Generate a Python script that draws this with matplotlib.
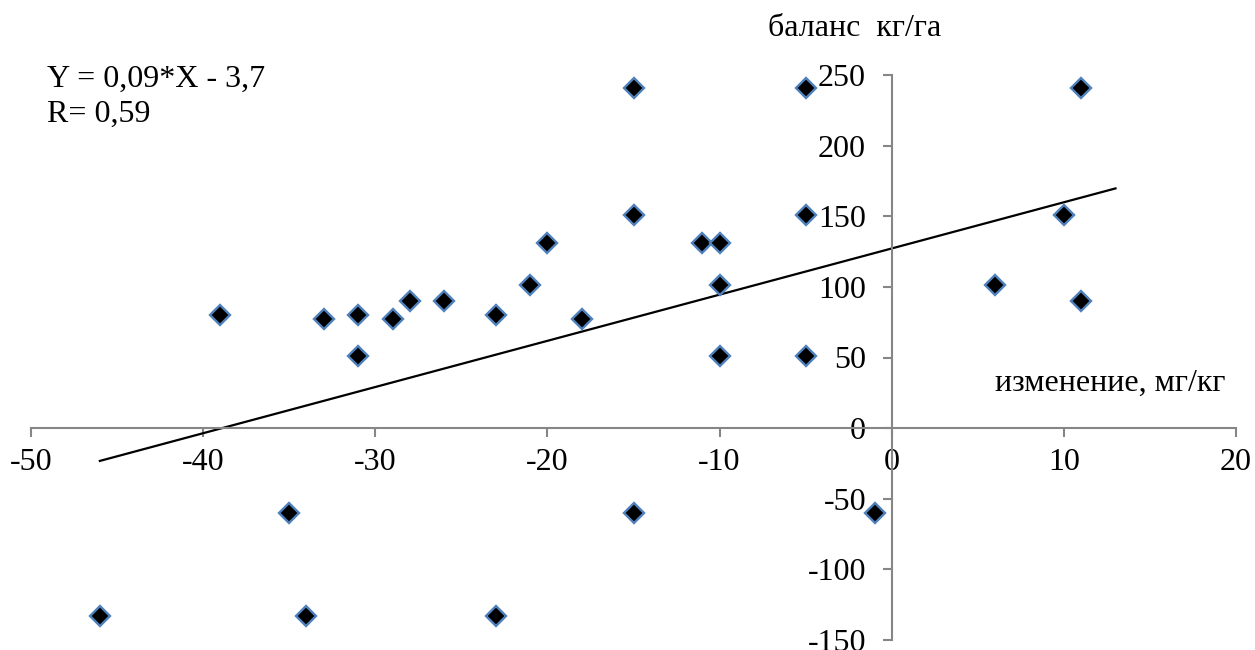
import matplotlib
matplotlib.use('Agg')
import matplotlib.pyplot as plt
import numpy as np

plt.rcParams['font.family'] = ['Liberation Serif', 'DejaVu Serif']
plt.rcParams['axes.unicode_minus'] = False

# изменение, мг/кг
x_change = [-46, -39, -35, -34, -33, -31, -31, -29, -28, -26,
            -23, -23, -21, -20, -18, -15, -15, -15, -11, -10,
            -10, -10, -5, -5, -5, -1, 6, 10, 11, 11]
# баланс кг/га
y_balance = [-133, 80, -60, -133, 77, 80, 51, 77, 90, 90,
             80, -133, 101, 131, 77, 241, 151, -60, 131, 131,
             101, 51, 241, 151, 51, -60, 101, 151, 241, 90]

trend_x = [-46, 13]
trend_slope = 3.27
trend_intercept = 127.2

x_ticks = [-50, -40, -30, -20, -10, 0, 10, 20]
y_ticks = [-150, -100, -50, 0, 50, 100, 150, 200, 250]

fig = plt.figure(figsize=(12.55, 6.5), dpi=100)
ax = fig.add_axes([31 / 1255, 10 / 650, 1205 / 1255, 565 / 650])

axis_col = '#868686'
fs = 23

tx = np.array(trend_x)
ax.plot(tx, trend_slope * tx + trend_intercept, color='black', linewidth=1.6, zorder=2)
ax.plot(x_change, y_balance, linestyle='none', marker='D', markersize=10.5,
        markerfacecolor='black', markeredgecolor='#4F81BD', markeredgewidth=1.7, zorder=3)

ax.set_xlim(-50, 20)
ax.set_ylim(-150, 250)
ax.set_xticks(x_ticks)
ax.set_yticks(y_ticks)

ax.spines['left'].set_position(('data', 0))
ax.spines['bottom'].set_position(('data', 0))
ax.spines['top'].set_visible(False)
ax.spines['right'].set_visible(False)
for s in ('left', 'bottom'):
    ax.spines[s].set_color(axis_col)
    ax.spines[s].set_linewidth(1.5)

ax.tick_params(axis='both', direction='out', length=6.5, width=1.5, color=axis_col,
               labelsize=fs, labelcolor='black')
ax.tick_params(axis='x', pad=8)
ax.tick_params(axis='y', pad=12)
ax.patch.set_alpha(0)

fig.text(768 / 1255, 1 - 28 / 650, 'баланс  кг/га', fontsize=fs, va='center', ha='left')
fig.text(995 / 1255, 1 - 383 / 650, 'изменение, мг/кг', fontsize=fs, va='center', ha='left')
fig.text(47 / 1255, 1 - 79 / 650, 'Y = 0,09*X - 3,7', fontsize=fs, va='center', ha='left')
fig.text(47 / 1255, 1 - 114 / 650, 'R= 0,59', fontsize=fs, va='center', ha='left')

fig.savefig('out.png', dpi=100)
